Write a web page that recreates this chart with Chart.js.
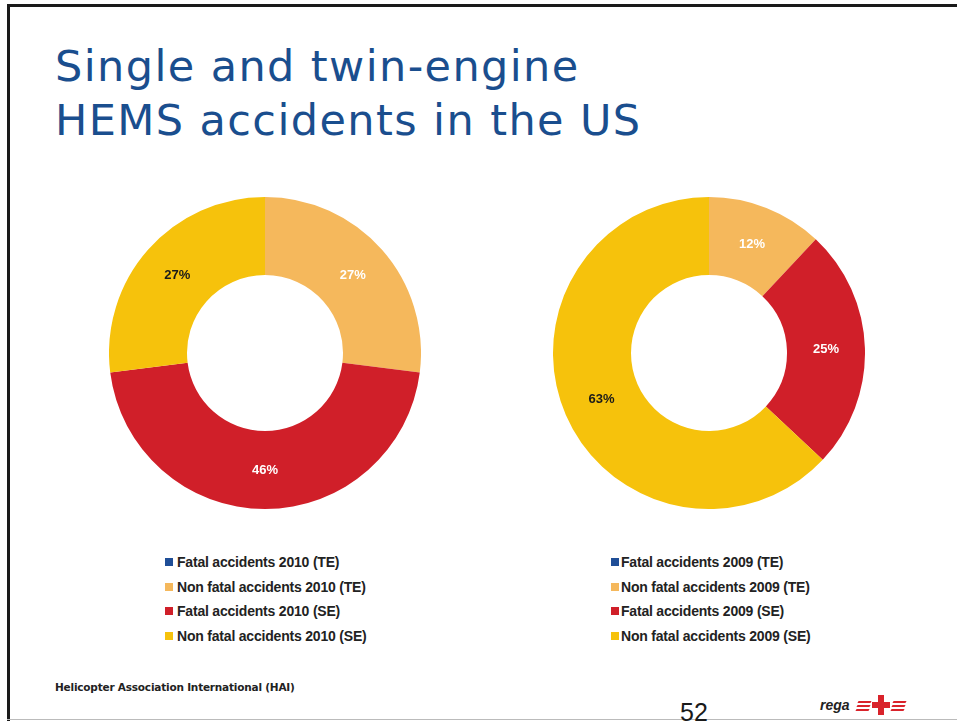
<!DOCTYPE html>
<html>
<head>
<meta charset="utf-8">
<script src="https://cdn.jsdelivr.net/npm/chart.js@4.4.1/dist/chart.umd.min.js"></script>
<style>
  html, body { margin: 0; padding: 0; background: #fff; }
  #slide { position: relative; width: 957px; height: 721px; overflow: hidden; background: #fff; }
  .frame-top { position: absolute; left: 7px; top: 4px; width: 960px; height: 3px; background: #1a1a1a; }
  .frame-left { position: absolute; left: 7px; top: 4px; width: 3px; height: 720px; background: #1a1a1a; }
  .frame-bottom { position: absolute; left: 7px; top: 719px; width: 960px; height: 1px; background: #bbb; }
  .title { position: absolute; left: 55px; top: 39px; font-family: "DejaVu Sans", sans-serif; font-size: 43px;
           line-height: 54px; letter-spacing: 1.4px; color: #1a4e8e; white-space: nowrap; }
  canvas { position: absolute; }
  .legend { position: absolute; font-family: "Liberation Sans", Arial, sans-serif; font-weight: bold; font-size: 14px;
            color: #222; letter-spacing: -0.2px; }
  .legend .row { position: relative; height: 24.7px; line-height: 24.7px; white-space: nowrap; }
  .legend .box { position: absolute; top: 8px; width: 8px; height: 8px; }
  .footer { position: absolute; left: 55px; top: 681px; font-family: "DejaVu Sans", sans-serif; font-size: 10.5px;
            font-weight: bold; color: #222; letter-spacing: -0.2px; }
  .page { position: absolute; left: 680px; top: 700px; font-family: "Liberation Sans", Arial, sans-serif; font-size: 25px;
          line-height: 25px; color: #1a1a1a; }
  .rega { position: absolute; left: 820px; top: 697px; font-family: "Liberation Sans", Arial, sans-serif; font-style: italic;
          font-weight: bold; font-size: 14px; color: #222; }
  .bar { position: absolute; background: #d9232b; }
</style>
</head>
<body>
<div id="slide">
  <div class="frame-top"></div>
  <div class="frame-left"></div>
  <div class="frame-bottom"></div>
  <div class="title">Single and twin-engine<br>HEMS accidents in the US</div>

  <canvas id="chart2010" width="312" height="312" style="left:109px; top:197px;"></canvas>
  <canvas id="chart2009" width="312" height="312" style="left:553px; top:197px;"></canvas>

  <div class="legend" id="legend2010" style="left:165px; top:550px;"></div>
  <div class="legend" id="legend2009" style="left:611px; top:550px;"></div>

  <div class="footer">Helicopter Association International (HAI)</div>
  <div class="page">52</div>
  <div class="rega">rega</div>
  <div class="bar" style="left:858px; top:701px; width:13px; height:2px; transform:skewX(-30deg);"></div>
  <div class="bar" style="left:857px; top:705px; width:13px; height:2px; transform:skewX(-30deg);"></div>
  <div class="bar" style="left:856px; top:709px; width:13px; height:2px; transform:skewX(-30deg);"></div>
  <div class="bar" style="left:878px; top:695px; width:6px; height:20px;"></div>
  <div class="bar" style="left:872px; top:702px; width:18px; height:6px;"></div>
  <div class="bar" style="left:893px; top:701px; width:13px; height:2px; transform:skewX(-30deg);"></div>
  <div class="bar" style="left:892px; top:705px; width:13px; height:2px; transform:skewX(-30deg);"></div>
  <div class="bar" style="left:891px; top:709px; width:13px; height:2px; transform:skewX(-30deg);"></div>
</div>

<script>
const labels2010 = [
  "Fatal accidents 2010 (TE)",
  "Non fatal accidents 2010 (TE)",
  "Fatal accidents 2010 (SE)",
  "Non fatal accidents 2010 (SE)",
];
const labels2009 = [
  "Fatal accidents 2009 (TE)",
  "Non fatal accidents 2009 (TE)",
  "Fatal accidents 2009 (SE)",
  "Non fatal accidents 2009 (SE)",
];
const values2010 = [0, 27, 46, 27];
const values2009 = [0, 12, 25, 63];

const sliceColors = ["#1f4e97", "#f5b85c", "#d01f29", "#f6c20c"];
const labelColors = ["#ffffff", "#ffffff", "#ffffff", "#1a1a1a"];

// percent labels in the middle of each ring slice
const percentLabels = {
  id: "percentLabels",
  afterDatasetsDraw(chart) {
    const ctx = chart.ctx;
    const meta = chart.getDatasetMeta(0);
    const values = chart.data.datasets[0].data;
    ctx.save();
    ctx.font = "bold 13px 'Liberation Sans', Arial, sans-serif";
    ctx.textAlign = "center";
    ctx.textBaseline = "middle";
    meta.data.forEach((arc, i) => {
      if (!values[i]) return;
      const pos = arc.tooltipPosition();
      ctx.fillStyle = labelColors[i];
      ctx.fillText(values[i] + "%", pos.x, pos.y);
    });
    ctx.restore();
  },
};

const drawDonut = (id, labels, values) => {
  const element = document.getElementById(id);
  return new Chart(element, {
    type: "doughnut",
    data: {
      labels: labels,
      datasets: [{
        data: values,
        backgroundColor: sliceColors,
        borderWidth: 0,
      }],
    },
    options: {
      responsive: false,
      animation: false,
      cutout: "50%",
      layout: { padding: 0 },
      plugins: {
        legend: { display: false },
        tooltip: { enabled: false },
      },
    },
    plugins: [percentLabels],
  });
};

const buildLegend = (id, labels, gap) => {
  const box = document.getElementById(id);
  labels.forEach((text, i) => {
    const row = document.createElement("div");
    row.className = "row";
    row.style.paddingLeft = gap + "px";
    const sw = document.createElement("span");
    sw.className = "box";
    sw.style.left = "0px";
    sw.style.background = sliceColors[i];
    row.appendChild(sw);
    row.appendChild(document.createTextNode(text));
    box.appendChild(row);
  });
};

drawDonut("chart2010", labels2010, values2010);
drawDonut("chart2009", labels2009, values2009);
buildLegend("legend2010", labels2010, 12);
buildLegend("legend2009", labels2009, 10);
</script>
</body>
</html>
